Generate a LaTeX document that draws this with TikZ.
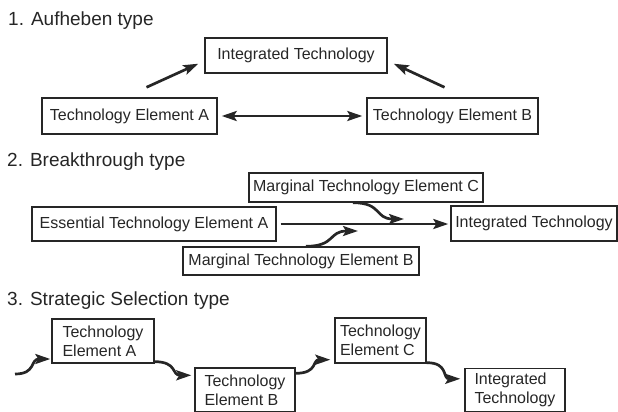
\documentclass[tikz,border=0pt]{standalone}
\usepackage{fontspec}
\setmainfont{Liberation Sans}
\usetikzlibrary{positioning,arrows.meta,calc}

\begin{document}
\begin{tikzpicture}[
    x=1pt, y=-1pt,
    every node/.style={text=black!85},
    techbox/.style={rectangle, draw=black!85, line width=1.4pt, inner sep=0pt, align=left, font=\fontsize{16}{19}\selectfont},
    titletext/.style={anchor=base west, inner sep=0pt, font=\fontsize{19}{23}\selectfont},
    arrow/.style={-{Stealth[length=15pt,width=10pt,inset=3pt]}, line width=2.7pt, black!85},
    dblarrow/.style={{Stealth[length=15pt,width=10pt,inset=3pt]}-{Stealth[length=15pt,width=10pt,inset=3pt]}, line width=2.7pt, black!85},
    wavearrow/.style={arrow, out=0, in=180, looseness=1.4}
]
\useasboundingbox (0,0) rectangle (618,412);

% 1. Aufheben type
\node[titletext] (title1) at (8,25.5) {1. Aufheben type};
\node[techbox, minimum width=182pt, minimum height=35pt] (int1) at (296,55.5) {Integrated Technology};
\node[techbox, minimum width=175pt, minimum height=36pt] (teA1) at (129.5,116) {Technology Element A};
\node[techbox, minimum width=171pt, minimum height=36pt] (teB1) at (452.5,116) {Technology Element B};

\draw[arrow] ([xshift=17pt,yshift=10pt]teA1.north) -- ([xshift=-6pt,yshift=10pt]int1.south west);
\draw[arrow] ([xshift=-8pt,yshift=10pt]teB1.north) -- ([xshift=6pt,yshift=10pt]int1.south east);
\draw[dblarrow, shorten <=4pt, shorten >=4pt] (teA1.east) -- (teA1.east -| teB1.west);

% 2. Breakthrough type
\node[titletext] (title2) at (7,166) {2. Breakthrough type};
\node[techbox, minimum width=234pt, minimum height=29pt] (mC) at (366,187.5) {Marginal Technology Element C};
\node[techbox, minimum width=244pt, minimum height=34pt] (essA) at (154,224) {Essential Technology Element A};
\node[techbox, minimum width=166pt, minimum height=35pt] (int2) at (534,223.5) {Integrated Technology};
\node[techbox, minimum width=236pt, minimum height=28pt] (mB) at (301,261) {Marginal Technology Element B};

\coordinate (cEnd) at (404,219);
\coordinate (bEnd) at (358,231);

\draw[arrow, shorten <=4pt, shorten >=2pt] (essA.east) -- (essA.east -| int2.west);
\draw[wavearrow] ([xshift=-13pt]mC.south) to (cEnd);
\draw[wavearrow] ([xshift=5pt]mB.north) to (bEnd);

% 3. Strategic Selection type
\node[titletext] (title3) at (7,305.5) {3. Strategic Selection type};
\node[techbox, minimum width=102pt, minimum height=44pt] (teA3) at (103,341) {Technology\\Element A};
\node[techbox, minimum width=100pt, minimum height=44pt] (teB3) at (245,390) {Technology\\Element B};
\node[techbox, minimum width=91pt, minimum height=45pt] (teC3) at (380.5,340.5) {Technology\\Element C};
\node[techbox, minimum width=100pt, minimum height=43pt] (int3) at (515,390) {Integrated\\Technology};

\coordinate (start3) at (15,374);

\draw[wavearrow, shorten >=1pt] (start3) to ([yshift=-18pt]teA3.west);
\draw[wavearrow, shorten >=3pt] ([yshift=2pt]teA3.south east) to ([yshift=-8pt]teB3.north west);
\draw[wavearrow, shorten >=4pt] ([yshift=-6pt]teB3.north east) to ([yshift=4pt]teC3.south west);
\draw[wavearrow, shorten >=4pt] ([yshift=1pt]teC3.south east) to ([yshift=-11pt]int3.north west);

\end{tikzpicture}
\end{document}
